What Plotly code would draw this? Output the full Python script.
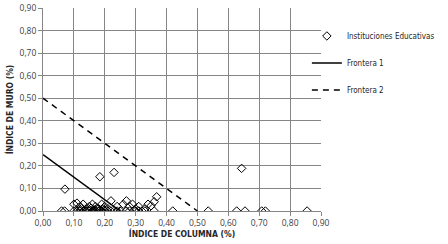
import plotly.graph_objects as go

# Instituciones Educativas (índice de columna, índice de muro)
col_idx = [0.06, 0.07, 0.10, 0.11, 0.12, 0.13, 0.14, 0.15, 0.16, 0.165, 0.17, 0.18, 0.19, 0.20,
           0.21, 0.22, 0.24, 0.25, 0.27, 0.28, 0.30, 0.31, 0.32, 0.33, 0.36, 0.42, 0.535, 0.627,
           0.654, 0.708, 0.72, 0.855,
           0.071, 0.184, 0.23, 0.643,
           0.10, 0.11, 0.12, 0.13, 0.14, 0.15, 0.16, 0.17, 0.18, 0.19, 0.20, 0.21, 0.22, 0.24,
           0.26, 0.27, 0.28, 0.29, 0.30, 0.31, 0.33, 0.34, 0.35, 0.36, 0.368,
           0.115, 0.125, 0.145, 0.155, 0.165, 0.175, 0.185, 0.195, 0.205]
wall_idx = [0.0] * 32 + [0.097, 0.152, 0.171, 0.189] + \
           [0.03, 0.035, 0.02, 0.03, 0.01, 0.02, 0.03, 0.02, 0.01, 0.03, 0.02, 0.01, 0.045, 0.02,
            0.03, 0.045, 0.02, 0.03, 0.01, 0.02, 0.01, 0.03, 0.023, 0.041, 0.063,
            0.005, 0.01, 0.005, 0.012, 0.006, 0.01, 0.004, 0.008, 0.005]

# Fronteras
f1_x = [0.0, 0.25]
f1_y = [0.25, 0.0]
f2_x = [0.0, 0.5]
f2_y = [0.5, 0.0]

x_ticks = [i / 10 for i in range(10)]
x_labels = ["0,00", "0,10", "0,20", "0,30", "0,40", "0,50", "0,60", "0,70", "0,80", "0,90"]
y_ticks = x_ticks
y_labels = x_labels

font_fam = "Open Sans, Liberation Sans, sans-serif"
narrow_fam = "Liberation Sans Narrow, DejaVu Sans Condensed, Liberation Sans, sans-serif"
tick_col = "#404040"

fig = go.Figure()
fig.add_trace(go.Scatter(x=col_idx, y=wall_idx, mode="markers", name="Instituciones Educativas",
                         legendgroup="a",
                         marker=dict(symbol="diamond-open", size=6.5, color="black",
                                     line=dict(width=1, color="black"))))
fig.add_trace(go.Scatter(x=f1_x, y=f1_y, mode="lines", name="Frontera 1", legendgroup="b",
                         line=dict(color="black", width=1.5)))
fig.add_trace(go.Scatter(x=f2_x, y=f2_y, mode="lines", name="Frontera 2", legendgroup="c",
                         line=dict(color="black", width=1.5, dash="6px,5px")))

axis_common = dict(showgrid=True, gridcolor="#868686", gridwidth=1, zeroline=False,
                   showline=True, linecolor="#868686", linewidth=1, ticks="outside",
                   ticklen=4, tickcolor="#868686",
                   tickfont=dict(size=8.5, color=tick_col, family=font_fam))

fig.update_layout(
    width=448, height=244,
    margin=dict(l=43, r=127, t=8, b=33, autoexpand=False),
    plot_bgcolor="white", paper_bgcolor="white",
    font=dict(family=font_fam, size=9, color="black"),
    xaxis=dict(range=[0, 0.9], tickvals=x_ticks, ticktext=x_labels,
               title=dict(text="<b>ÍNDICE DE COLUMNA (%)</b>",
                          font=dict(size=8.5, color="#262626", family=narrow_fam),
                          standoff=2),
               automargin=False, **axis_common),
    yaxis=dict(range=[0, 0.9], tickvals=y_ticks, ticktext=y_labels,
               title=dict(text="<b>ÍNDICE DE MURO (%)</b>",
                          font=dict(size=8.5, color="#262626", family=narrow_fam),
                          standoff=4),
               automargin=False, **axis_common),
    legend=dict(xref="container", yref="container", x=0.685, y=0.912,
                xanchor="left", yanchor="top",
                tracegroupgap=8, itemwidth=30,
                font=dict(size=8, color="#262626", family=narrow_fam), bgcolor="rgba(0,0,0,0)"),
    showlegend=True,
)

fig.write_html("out.html", config={"displayModeBar": False},
               post_script="document.body.style.margin='0';")
